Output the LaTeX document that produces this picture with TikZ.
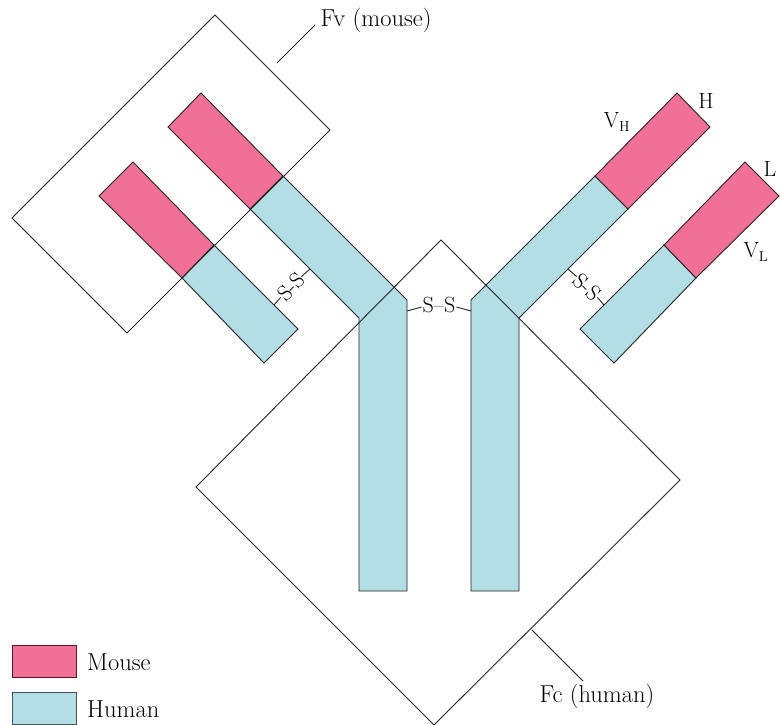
\documentclass[tikz,border=0pt]{standalone}
\usetikzlibrary{calc}
\definecolor{mousepink}{RGB}{240,112,150}
\definecolor{humanblue}{RGB}{180,222,230}
\definecolor{linegray}{RGB}{35,35,35}
\tikzset{
  mousepart/.style={fill=mousepink,draw=linegray,line width=0.9pt,line join=miter},
  humanpart/.style={fill=humanblue,draw=linegray,line width=0.9pt,line join=miter},
  frag/.style={draw=linegray,line width=0.9pt},
  thin/.style={draw=linegray,line width=0.9pt},
  lab/.style={inner sep=0pt,font=\fontsize{22}{26}\selectfont},
  biglab/.style={inner sep=0pt,font=\fontsize{24.5}{28}\selectfont},
  sslab/.style={inner sep=0pt,font=\fontsize{22}{26}\selectfont},
  legbox/.style={minimum width=64pt,minimum height=32pt,inner sep=0pt,line width=0.9pt},
}
\begin{document}
\begin{tikzpicture}[x=1pt,y=-1pt]
\useasboundingbox (0,0) rectangle (782,725);
% ---- left heavy chain
\coordinate (lh1) at (201,93);  \coordinate (lh2) at (168,127);
\coordinate (lh3) at (250,209); \coordinate (lh4) at (283,176);
\coordinate (lh5) at (359,318); \coordinate (lh6) at (359,591);
\coordinate (lh7) at (407,591); \coordinate (lh8) at (407,300);
\draw[humanpart] (lh3) -- (lh5) -- (lh6) -- (lh7) -- (lh8) -- (lh4) -- cycle;
\draw[mousepart] (lh1) -- (lh2) -- (lh3) -- (lh4) -- cycle;
% ---- right heavy chain (mirror about x=439)
\coordinate (rh1) at (677,93);  \coordinate (rh2) at (710,127);
\coordinate (rh3) at (628,209); \coordinate (rh4) at (595,176);
\coordinate (rh5) at (519,318); \coordinate (rh6) at (519,591);
\coordinate (rh7) at (471,591); \coordinate (rh8) at (471,300);
\draw[humanpart] (rh3) -- (rh5) -- (rh6) -- (rh7) -- (rh8) -- (rh4) -- cycle;
\draw[mousepart] (rh1) -- (rh2) -- (rh3) -- (rh4) -- cycle;
% ---- left light chain
\coordinate (ll1) at (133,162); \coordinate (ll2) at (99,196);
\coordinate (ll3) at (182,278); \coordinate (ll4) at (214,245);
\coordinate (ll5) at (264,363); \coordinate (ll6) at (298,329);
\draw[humanpart] (ll3) -- (ll5) -- (ll6) -- (ll4) -- cycle;
\draw[mousepart] (ll1) -- (ll2) -- (ll3) -- (ll4) -- cycle;
% ---- right light chain
\coordinate (rl1) at (745,162); \coordinate (rl2) at (779,196);
\coordinate (rl3) at (696,278); \coordinate (rl4) at (664,245);
\coordinate (rl5) at (614,363); \coordinate (rl6) at (580,329);
\draw[humanpart] (rl3) -- (rl5) -- (rl6) -- (rl4) -- cycle;
\draw[mousepart] (rl1) -- (rl2) -- (rl3) -- (rl4) -- cycle;
% ---- Fv box
\coordinate (fvT) at (215,15);  \coordinate (fvR) at (330,130);
\coordinate (fvB) at (127,333); \coordinate (fvL) at (12,218);
\draw[frag] (fvT) -- (fvR) -- (fvB) -- (fvL) -- cycle;
% ---- Fc box
\coordinate (fcT) at (441,240); \coordinate (fcR) at (680,480);
\coordinate (fcB) at (434,725); \coordinate (fcL) at (196,487);
\draw[frag] (fcT) -- (fcR) -- (fcB) -- (fcL) -- cycle;
% ---- disulfide bonds
\coordinate (sslA) at (274,305); \coordinate (sslB) at (310,269);
\node[sslab,rotate=45] (ssl) at (291,287) {S-S};
\draw[thin] (sslA) -- (ssl.west);
\draw[thin] (ssl.east) -- (sslB);
\coordinate (ssrA) at (604,305); \coordinate (ssrB) at (568,269);
\node[sslab,rotate=-45] (ssr) at (587,287) {S-S};
\draw[thin] (ssrB) -- (ssr.west);
\draw[thin] (ssr.east) -- (ssrA);
\coordinate (ssmA) at (407,311); \coordinate (ssmB) at (471,311);
\node[sslab] (ssm) at (439,305) {S--S};
\draw[thin] (ssmA) -- ($(ssm.west)+(-1,2)$);
\draw[thin] ($(ssm.east)+(1,2)$) -- (ssmB);
% ---- labels
\node[biglab] (fvlab) at (376,20) {Fv (mouse)};
\coordinate (fvpt) at (277,63); \coordinate (fvend) at (315,25);
\draw[thin] (fvpt) -- (fvend);
\node[biglab] (fclab) at (597,696) {Fc (human)};
\coordinate (fcpt) at (532,630); \coordinate (fcend) at (583,681);
\draw[thin] (fcpt) -- (fcend);
\node[lab] (hlab) at (706,101) {H};
\node[lab] (vhlab) at (617,122) {V$_{\mathrm{H}}$};
\node[lab] (llab) at (770,169) {L};
\node[lab] (vllab) at (756,252) {V$_{\mathrm{L}}$};
% ---- legend
\node[legbox,fill=mousepink,draw={rgb,255:red,90;green,20;blue,40}] (legm) at (44,661) {};
\node[legbox,fill=humanblue,draw={rgb,255:red,70;green,80;blue,85}] (legh) at (44,708.5) {};
\node[biglab,anchor=west] (legmt) at (87,662) {Mouse};
\node[biglab,anchor=west] (leght) at (87,709) {Human};
\end{tikzpicture}
\end{document}
